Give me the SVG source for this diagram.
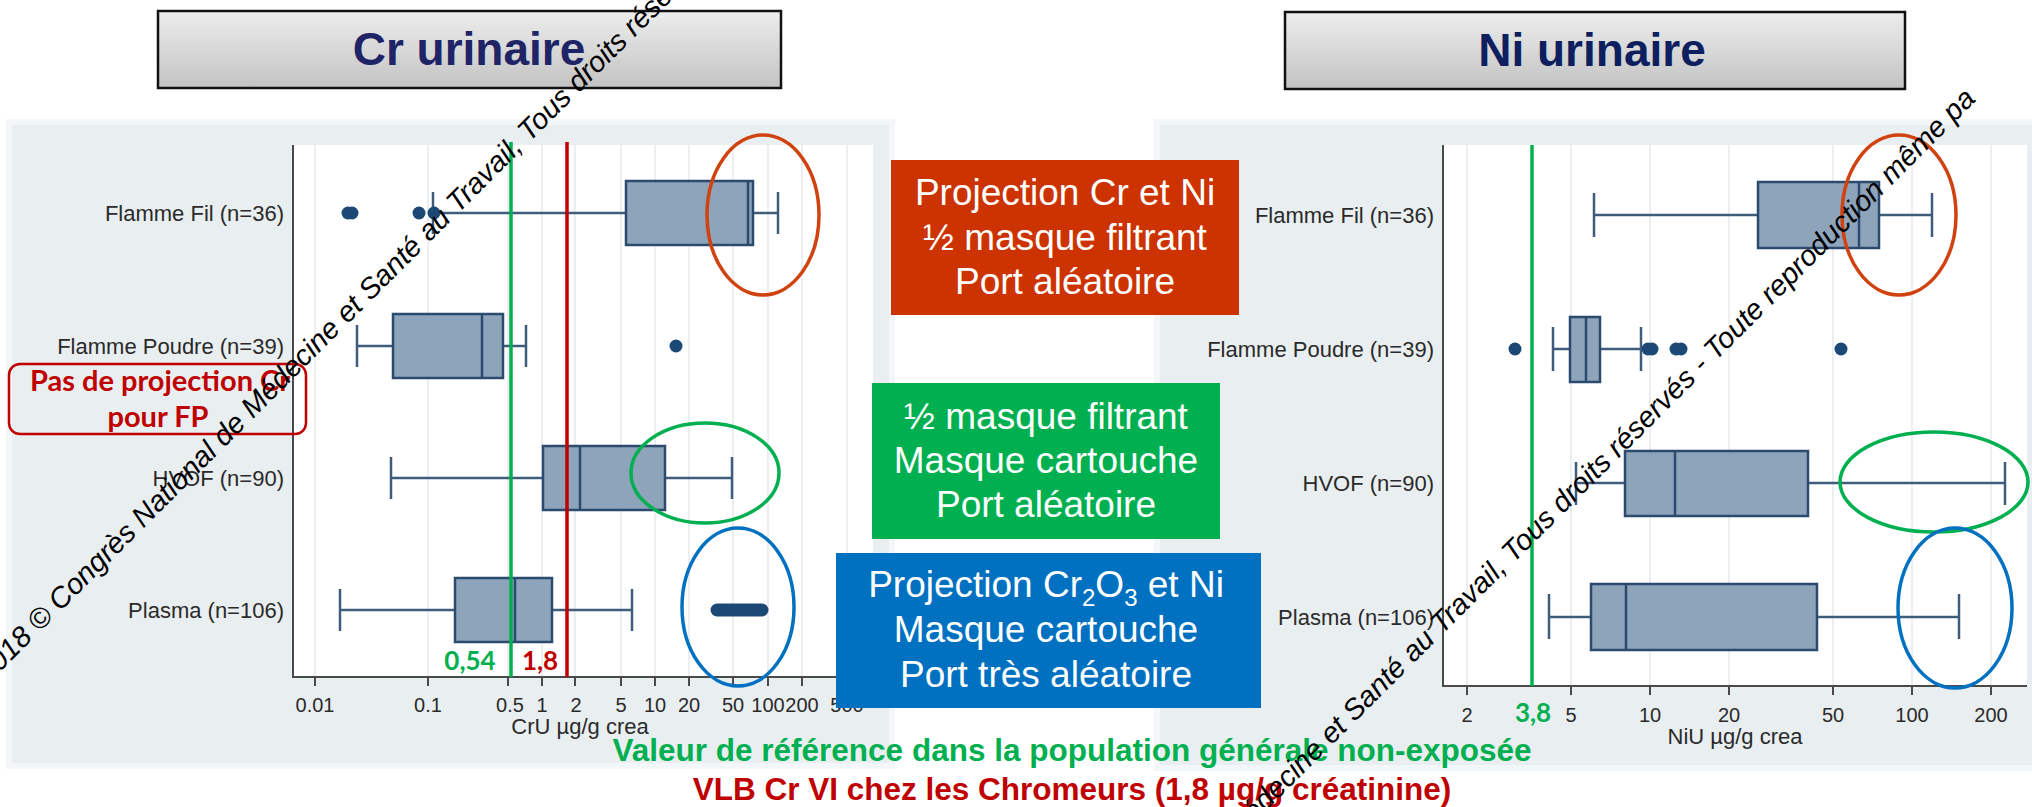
<svg xmlns="http://www.w3.org/2000/svg" width="2032" height="807" viewBox="0 0 2032 807">
  <defs>
    <linearGradient id="titleGrad" x1="0" y1="0" x2="0" y2="1">
      <stop offset="0" stop-color="#ededed"/>
      <stop offset="1" stop-color="#c3c3c3"/>
    </linearGradient>
    <style>
      .panel { fill: #e9eef1; stroke: #f4f7f9; stroke-width: 6; }
      .plot { fill: #ffffff; }
      .grid { stroke: #e6e9ec; stroke-width: 1.5; }
      .axis { stroke: #4a4a4a; stroke-width: 2; fill: none; }
      .tick { stroke: #4a4a4a; stroke-width: 2; }
      .ticklbl { font-family: "Liberation Sans", Arial, sans-serif; font-size: 20px; fill: #2a2a2a; text-anchor: middle; }
      .axtitle { font-family: "Liberation Sans", Arial, sans-serif; font-size: 22px; fill: #2a2a2a; text-anchor: middle; }
      .cat { font-family: "Liberation Sans", Arial, sans-serif; font-size: 22px; fill: #2a2a2a; text-anchor: end; }
      .box { fill: #8ea4bb; stroke: #2b4a6d; stroke-width: 2.5; }
      .med { stroke: #2b4a6d; stroke-width: 2.5; }
      .whisk { stroke: #3f5c7c; stroke-width: 2.5; fill: none; }
      .out { fill: #1c4875; }
      .title { fill: url(#titleGrad); stroke: #111; stroke-width: 2.5; }
      .titletxt { font-family: "Liberation Sans", Arial, sans-serif; font-weight: bold; font-size: 46px; text-anchor: middle; }
      .legtxt { font-family: "Liberation Sans", Arial, sans-serif; font-size: 37px; fill: #ffffff; text-anchor: middle; }
      .val { font-family: Lato, "Open Sans", sans-serif; font-weight: bold; font-size: 26px; text-anchor: middle; }
      .note { font-family: Lato, "Open Sans", sans-serif; font-weight: bold; font-size: 29px; fill: #c00000; text-anchor: middle; }
      .foot { font-family: "Liberation Sans", Arial, sans-serif; font-weight: bold; font-size: 31.5px; text-anchor: middle; }
      .wm { font-family: "Liberation Sans", Arial, sans-serif; font-style: italic; font-size: 29px; fill: #000; }
    </style>
  </defs>

  <rect width="2032" height="807" fill="#ffffff"/>

  <!-- Urinary chromium box plot -->
  <g id="chart-cr">
    <rect class="panel" x="9" y="122" width="883" height="644"/>
    <rect class="plot" x="293" y="145" width="580" height="532"/>
    <g>
      <line class="grid" x1="315" y1="145" x2="315" y2="677"/>
      <line class="grid" x1="428" y1="145" x2="428" y2="677"/>
      <line class="grid" x1="508" y1="145" x2="508" y2="677"/>
      <line class="grid" x1="542" y1="145" x2="542" y2="677"/>
      <line class="grid" x1="575" y1="145" x2="575" y2="677"/>
      <line class="grid" x1="621" y1="145" x2="621" y2="677"/>
      <line class="grid" x1="655" y1="145" x2="655" y2="677"/>
      <line class="grid" x1="689" y1="145" x2="689" y2="677"/>
      <line class="grid" x1="733" y1="145" x2="733" y2="677"/>
      <line class="grid" x1="768" y1="145" x2="768" y2="677"/>
      <line class="grid" x1="802" y1="145" x2="802" y2="677"/>
      <line class="grid" x1="847" y1="145" x2="847" y2="677"/>
    </g>
    <path class="axis" d="M293 145 V677 H873"/>
    <g>
      <line class="tick" x1="315" y1="677" x2="315" y2="686"/>
      <line class="tick" x1="428" y1="677" x2="428" y2="686"/>
      <line class="tick" x1="508" y1="677" x2="508" y2="686"/>
      <line class="tick" x1="542" y1="677" x2="542" y2="686"/>
      <line class="tick" x1="575" y1="677" x2="575" y2="686"/>
      <line class="tick" x1="621" y1="677" x2="621" y2="686"/>
      <line class="tick" x1="655" y1="677" x2="655" y2="686"/>
      <line class="tick" x1="689" y1="677" x2="689" y2="686"/>
      <line class="tick" x1="733" y1="677" x2="733" y2="686"/>
      <line class="tick" x1="768" y1="677" x2="768" y2="686"/>
      <line class="tick" x1="802" y1="677" x2="802" y2="686"/>
      <line class="tick" x1="847" y1="677" x2="847" y2="686"/>
    </g>
    <g>
      <text class="ticklbl" x="315" y="712">0.01</text>
      <text class="ticklbl" x="428" y="712">0.1</text>
      <text class="ticklbl" x="510" y="712">0.5</text>
      <text class="ticklbl" x="542" y="712">1</text>
      <text class="ticklbl" x="576" y="712">2</text>
      <text class="ticklbl" x="621" y="712">5</text>
      <text class="ticklbl" x="655" y="712">10</text>
      <text class="ticklbl" x="689" y="712">20</text>
      <text class="ticklbl" x="733" y="712">50</text>
      <text class="ticklbl" x="768" y="712">100</text>
      <text class="ticklbl" x="802" y="712">200</text>
      <text class="ticklbl" x="847" y="712">500</text>
    </g>
    <text class="axtitle" x="580" y="734">CrU µg/g crea</text>

    <text class="cat" x="284" y="221">Flamme Fil (n=36)</text>
    <text class="cat" x="284" y="354">Flamme Poudre (n=39)</text>
    <text class="cat" x="284" y="486">HVOF (n=90)</text>
    <text class="cat" x="284" y="618">Plasma (n=106)</text>

    <!-- Flamme Fil -->
    <g>
      <path class="whisk" d="M433 213 H626 M753 213 H778 M433 192 V234 M778 192 V234"/>
      <rect class="box" x="626" y="181" width="127" height="64"/>
      <line class="med" x1="748" y1="181" x2="748" y2="245"/>
      <circle class="out" cx="348" cy="213" r="6.5"/>
      <circle class="out" cx="352" cy="213" r="6.5"/>
      <circle class="out" cx="419" cy="213" r="6.5"/>
      <circle class="out" cx="434" cy="213" r="6.5"/>
    </g>
    <!-- Flamme Poudre -->
    <g>
      <path class="whisk" d="M357 346 H393 M503 346 H526 M357 325 V367 M526 325 V367"/>
      <rect class="box" x="393" y="314" width="110" height="64"/>
      <line class="med" x1="482" y1="314" x2="482" y2="378"/>
      <circle class="out" cx="676" cy="346" r="6.5"/>
    </g>
    <!-- HVOF -->
    <g>
      <path class="whisk" d="M391 478 H543 M665 478 H732 M391 457 V499 M732 457 V499"/>
      <rect class="box" x="543" y="446" width="122" height="64"/>
      <line class="med" x1="580" y1="446" x2="580" y2="510"/>
    </g>
    <!-- Plasma -->
    <g>
      <path class="whisk" d="M340 610 H455 M552 610 H632 M340 589 V631 M632 589 V631"/>
      <rect class="box" x="455" y="578" width="97" height="64"/>
      <line class="med" x1="515" y1="578" x2="515" y2="642"/>
      <line x1="717" y1="610" x2="762" y2="610" stroke="#1c4875" stroke-width="13" stroke-linecap="round"/>
    </g>

    <!-- reference values -->
    <line x1="511" y1="142" x2="511" y2="677" stroke="#00b050" stroke-width="3.5"/>
    <line x1="567" y1="142" x2="567" y2="677" stroke="#c00000" stroke-width="3.5"/>
    <text class="val" x="470" y="670" fill="#00b050">0,54</text>
    <text class="val" x="540" y="670" fill="#c00000">1,8</text>

    <ellipse cx="763" cy="215" rx="56" ry="80" fill="none" stroke="#d0420f" stroke-width="3.5"/>
    <ellipse cx="705" cy="473" rx="74" ry="50" fill="none" stroke="#00b050" stroke-width="3.5"/>
    <ellipse cx="738" cy="607" rx="56" ry="79" fill="none" stroke="#0070c0" stroke-width="3.5"/>
  </g>

  <!-- Urinary nickel box plot -->
  <g id="chart-ni">
    <rect class="panel" x="1157" y="122" width="880" height="646"/>
    <rect class="plot" x="1443" y="145" width="584" height="541"/>
    <g>
      <line class="grid" x1="1467" y1="145" x2="1467" y2="686"/>
      <line class="grid" x1="1571" y1="145" x2="1571" y2="686"/>
      <line class="grid" x1="1650" y1="145" x2="1650" y2="686"/>
      <line class="grid" x1="1729" y1="145" x2="1729" y2="686"/>
      <line class="grid" x1="1833" y1="145" x2="1833" y2="686"/>
      <line class="grid" x1="1912" y1="145" x2="1912" y2="686"/>
      <line class="grid" x1="1991" y1="145" x2="1991" y2="686"/>
    </g>
    <path class="axis" d="M1443 145 V686 H2027"/>
    <g>
      <line class="tick" x1="1467" y1="686" x2="1467" y2="695"/>
      <line class="tick" x1="1571" y1="686" x2="1571" y2="695"/>
      <line class="tick" x1="1650" y1="686" x2="1650" y2="695"/>
      <line class="tick" x1="1729" y1="686" x2="1729" y2="695"/>
      <line class="tick" x1="1833" y1="686" x2="1833" y2="695"/>
      <line class="tick" x1="1912" y1="686" x2="1912" y2="695"/>
      <line class="tick" x1="1991" y1="686" x2="1991" y2="695"/>
    </g>
    <g>
      <text class="ticklbl" x="1467" y="722">2</text>
      <text class="ticklbl" x="1571" y="722">5</text>
      <text class="ticklbl" x="1650" y="722">10</text>
      <text class="ticklbl" x="1729" y="722">20</text>
      <text class="ticklbl" x="1833" y="722">50</text>
      <text class="ticklbl" x="1912" y="722">100</text>
      <text class="ticklbl" x="1991" y="722">200</text>
    </g>
    <text class="axtitle" x="1735" y="744">NiU µg/g crea</text>

    <text class="cat" x="1434" y="223">Flamme Fil (n=36)</text>
    <text class="cat" x="1434" y="357">Flamme Poudre (n=39)</text>
    <text class="cat" x="1434" y="491">HVOF (n=90)</text>
    <text class="cat" x="1434" y="625">Plasma (n=106)</text>

    <!-- Flamme Fil -->
    <g>
      <path class="whisk" d="M1594 215 H1758 M1879 215 H1932 M1594 193 V237 M1932 193 V237"/>
      <rect class="box" x="1758" y="182" width="121" height="66"/>
      <line class="med" x1="1859" y1="182" x2="1859" y2="248"/>
    </g>
    <!-- Flamme Poudre -->
    <g>
      <path class="whisk" d="M1553 349 H1570 M1600 349 H1641 M1553 327 V371 M1641 327 V371"/>
      <rect class="box" x="1570" y="317" width="30" height="65"/>
      <line class="med" x1="1586" y1="317" x2="1586" y2="382"/>
      <circle class="out" cx="1515" cy="349" r="6.5"/>
      <circle class="out" cx="1648" cy="349" r="6.5"/>
      <circle class="out" cx="1652" cy="349" r="6.5"/>
      <circle class="out" cx="1676" cy="349" r="6.5"/>
      <circle class="out" cx="1681" cy="349" r="6.5"/>
      <circle class="out" cx="1841" cy="349" r="6.5"/>
    </g>
    <!-- HVOF -->
    <g>
      <path class="whisk" d="M1576 483 H1625 M1808 483 H2005 M1576 462 V505 M2005 462 V505"/>
      <rect class="box" x="1625" y="451" width="183" height="65"/>
      <line class="med" x1="1675" y1="451" x2="1675" y2="516"/>
    </g>
    <!-- Plasma -->
    <g>
      <path class="whisk" d="M1549 617 H1591 M1817 617 H1959 M1549 594 V639 M1959 594 V639"/>
      <rect class="box" x="1591" y="584" width="226" height="66"/>
      <line class="med" x1="1626" y1="584" x2="1626" y2="650"/>
    </g>

    <line x1="1532" y1="145" x2="1532" y2="686" stroke="#00b050" stroke-width="3.5"/>
    <text class="val" x="1533" y="722" fill="#00b050">3,8</text>

    <ellipse cx="1899" cy="215" rx="57" ry="80" fill="none" stroke="#d0420f" stroke-width="3.5"/>
    <ellipse cx="1934" cy="482" rx="94" ry="50" fill="none" stroke="#00b050" stroke-width="3.5"/>
    <ellipse cx="1955" cy="608" rx="57" ry="80" fill="none" stroke="#0070c0" stroke-width="3.5"/>
  </g>

  <!-- Protection conditions -->
  <g id="legend-fil">
    <rect x="891" y="160" width="348" height="155" fill="#cc3300"/>
    <text class="legtxt" x="1065" y="205">Projection Cr et Ni</text>
    <text class="legtxt" x="1065" y="250">½ masque filtrant</text>
    <text class="legtxt" x="1065" y="294">Port aléatoire</text>
  </g>
  <g id="legend-hvof">
    <rect x="872" y="383" width="348" height="156" fill="#00b050"/>
    <text class="legtxt" x="1046" y="429">½ masque filtrant</text>
    <text class="legtxt" x="1046" y="473">Masque cartouche</text>
    <text class="legtxt" x="1046" y="517">Port aléatoire</text>
  </g>
  <g id="legend-plasma">
    <rect x="836" y="553" width="425" height="155" fill="#0070c0"/>
    <text class="legtxt" x="1046" y="597">Projection Cr<tspan font-size="24" dy="9">2</tspan><tspan dy="-9">O</tspan><tspan font-size="24" dy="9">3</tspan><tspan dy="-9"> et Ni</tspan></text>
    <text class="legtxt" x="1046" y="642">Masque cartouche</text>
    <text class="legtxt" x="1046" y="687">Port très aléatoire</text>
  </g>

  <!-- Chart titles -->
  <g id="title-cr">
    <rect class="title" x="158" y="11" width="623" height="77"/>
    <text class="titletxt" x="469" y="65" fill="#1f2467">Cr urinaire</text>
  </g>
  <g id="title-ni">
    <rect class="title" x="1285" y="12" width="620" height="77"/>
    <text class="titletxt" x="1592" y="66" fill="#0d1f5e">Ni urinaire</text>
  </g>

  <!-- Note on flame powder -->
  <g id="note-fp">
    <rect x="9" y="364" width="297" height="70" rx="11" fill="none" stroke="#c00000" stroke-width="2.5"/>
    <text class="note" x="160" y="391">Pas de projection Cr</text>
    <text class="note" x="158" y="427">pour FP</text>
  </g>

  <!-- Reference values -->
  <g id="footnotes">
    <text class="foot" x="1072" y="761" fill="#00b050">Valeur de référence dans la population générale non-exposée</text>
    <text class="foot" x="1072" y="800" fill="#c00000">VLB Cr VI chez les Chromeurs (1,8 µg/g créatinine)</text>
  </g>

  <!-- Copyright line -->
  <g id="copyright">
    <text class="wm" transform="translate(-12 684) rotate(-45)">2018 © Congrès National de Médecine et Santé au Travail, Tous droits réservés - Toute reproduction même pa</text>
    <text class="wm" transform="translate(972 1105) rotate(-45)">2018 © Congrès National de Médecine et Santé au Travail, Tous droits réservés - Toute reproduction même pa</text>
  </g>
</svg>
